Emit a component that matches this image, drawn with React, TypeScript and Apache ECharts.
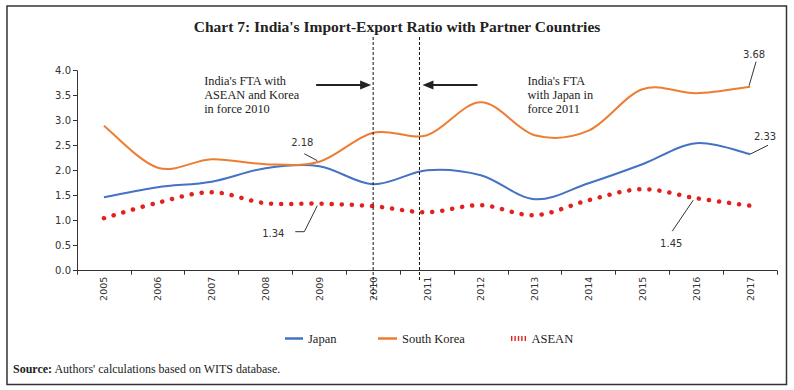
import React, { useEffect, useRef } from "react";
import * as echarts from "echarts";

const years = ["2005", "2006", "2007", "2008", "2009", "2010", "2011", "2012", "2013", "2014", "2015", "2016", "2017"];
const japan = [1.47, 1.67, 1.78, 2.05, 2.09, 1.73, 2.01, 1.91, 1.43, 1.75, 2.13, 2.55, 2.33];
const southKorea = [2.9, 2.06, 2.23, 2.13, 2.18, 2.76, 2.71, 3.37, 2.71, 2.8, 3.63, 3.55, 3.68];
const asean = [1.05, 1.36, 1.57, 1.35, 1.34, 1.29, 1.17, 1.31, 1.11, 1.41, 1.63, 1.45, 1.3];
const yMin = 0;
const yMax = 4;
const yStep = 0.5;

const TITLE = "Chart 7: India's Import-Export Ratio with Partner Countries";
const NOTE_LEFT = "India's FTA with\nASEAN and Korea\nin force 2010";
const NOTE_RIGHT = "India's FTA\nwith Japan in\nforce 2011";
const SOURCE_BOLD = "Source:";
const SOURCE_TEXT = " Authors' calculations based on WITS database.";
// FTA marker positions in category-index units
const FTA_POS = [5, 5.86];

const BLUE = "#4472C4";
const ORANGE = "#ED7D31";
const RED = "#E3201C";

const LABELS = [
  { values: southKorea, index: 4, leader: [[-2, -1], [-15, -8]], text: [-17, -19] },
  { values: southKorea, index: 12, leader: [[-1, -1], [6, -25]], text: [4, -32] },
  { values: japan, index: 12, leader: [[0, 0], [18, -9]], text: [15, -18] },
  { values: asean, index: 4, leader: [[-2, 2], [-15, 28], [-24, 28]], text: [-46, 30] },
  { values: asean, index: 11, leader: [[-3, 2], [-24, 33]], text: [-25, 45] },
];

// Smooth (Catmull-Rom style) curve built from values through the axis coordinate system
function smoothSeries(name: string, values: number[], color: string, lineStyle: any) {
  return {
    name,
    type: "custom",
    coordinateSystem: "cartesian2d",
    color,
    itemStyle: { color },
    encode: { x: 0, y: 1 },
    data: values.map((v, i) => [i, v]),
    renderItem: (params: any, api: any) => {
      if (params.dataIndex !== 0) return null;
      const pts = values.map((v, i) => api.coord([i, v]) as number[]);
      const n = pts.length;
      const t = 1 / 6;
      let d = `M${pts[0][0]},${pts[0][1]}`;
      for (let i = 0; i < n - 1; i++) {
        const p0 = pts[Math.max(0, i - 1)];
        const p1 = pts[i];
        const p2 = pts[i + 1];
        const p3 = pts[Math.min(n - 1, i + 2)];
        const c1x = p1[0] + (p2[0] - p0[0]) * t;
        const c1y = p1[1] + (p2[1] - p0[1]) * t;
        const c2x = p2[0] - (p3[0] - p1[0]) * t;
        const c2y = p2[1] - (p3[1] - p1[1]) * t;
        d += ` C${c1x},${c1y} ${c2x},${c2y} ${p2[0]},${p2[1]}`;
      }
      return {
        type: "path",
        shape: { pathData: d },
        style: { fill: "none", stroke: color, ...lineStyle },
      };
    },
  };
}

export default function App() {
  const ref = useRef<HTMLDivElement>(null);
  useEffect(() => {
    const el = ref.current!;
    const chart = echarts.init(el, null, { renderer: "svg", width: 794, height: 390 });
    const numFont = "DejaVu Sans";
    const serif = "Liberation Serif";
    chart.setOption({
      animation: false,
      backgroundColor: "#fff",
      title: {
        text: TITLE,
        left: "center",
        top: 13,
        textStyle: { fontFamily: serif, fontSize: 15.5, fontWeight: "bold", color: "#222" },
      },
      grid: { left: 77, right: 17, top: 70.7, bottom: 119.3 },
      xAxis: {
        type: "category",
        data: years,
        boundaryGap: true,
        axisLine: { lineStyle: { color: "#333", width: 1 } },
        axisTick: { show: true, length: 4, interval: 0, lineStyle: { color: "#333" } },
        axisLabel: { rotate: 90, interval: 0, margin: 6, fontFamily: numFont, fontSize: 9.5, color: "#333" },
        splitLine: { show: false },
      },
      yAxis: {
        type: "value",
        min: yMin,
        max: yMax,
        interval: yStep,
        axisLine: { show: true, lineStyle: { color: "#333", width: 1 } },
        axisTick: { show: true, length: 4, lineStyle: { color: "#333" } },
        axisLabel: { formatter: (v: number) => v.toFixed(1), fontFamily: numFont, fontSize: 10, color: "#333", margin: 6 },
        splitLine: { show: false },
      },
      legend: [
        {
          data: [{ name: "Japan", icon: "rect" }],
          left: 285, top: 332, padding: 0, itemWidth: 18, itemHeight: 2.5, itemGap: 0,
          textStyle: { fontFamily: serif, fontSize: 12.5, color: "#222" },
        },
        {
          data: [{ name: "South Korea", icon: "rect" }],
          left: 378, top: 332, padding: 0, itemWidth: 19, itemHeight: 2.5, itemGap: 0,
          textStyle: { fontFamily: serif, fontSize: 12.5, color: "#222" },
        },
        {
          data: [{ name: "ASEAN", icon: "path://M0,0h1.4v5h-1.4zM3.4,0h1.4v5h-1.4zM6.8,0h1.4v5h-1.4zM10.2,0h1.4v5h-1.4zM13.6,0h1.4v5h-1.4z" }],
          left: 511, top: 332, padding: 0, itemWidth: 16, itemHeight: 5, itemGap: 0,
          textStyle: { fontFamily: serif, fontSize: 12.5, color: "#222" },
        },
      ],
      series: [
        smoothSeries("Japan", japan, BLUE, { lineWidth: 2 }),
        smoothSeries("South Korea", southKorea, ORANGE, { lineWidth: 2 }),
        smoothSeries("ASEAN", asean, RED, { lineWidth: 4.5, lineDash: [0.1, 10], lineCap: "round" }),
      ],
    });

    const toPx = (i: number, v: number) => chart.convertToPixel({ gridIndex: 0 }, [i, v]) as number[];
    const catX = (pos: number) => {
      const i0 = Math.floor(pos);
      const a = toPx(i0, 0)[0];
      const b = toPx(i0 + 1, 0)[0];
      return a + (b - a) * (pos - i0);
    };
    const lx1 = catX(FTA_POS[0]);
    const lx2 = catX(FTA_POS[1]);
    const axisY = toPx(0, 0)[1];
    const arrowY = 85;

    const g: any[] = [];
    g.push({
      type: "rect", silent: true,
      shape: { x: 7, y: 6, width: 779.5, height: 378.5 },
      style: { fill: "none", stroke: "#333", lineWidth: 1.5 },
    });
    const dashed = { stroke: "#111", lineWidth: 1, lineDash: [3, 2] };
    g.push({ type: "line", shape: { x1: lx1, y1: 37, x2: lx1, y2: axisY + 28 }, style: dashed, z: 10 });
    g.push({ type: "line", shape: { x1: lx2, y1: 37, x2: lx2, y2: axisY + 10 }, style: dashed, z: 10 });

    // arrows
    const a1End = lx1 - 2;
    g.push({ type: "line", shape: { x1: a1End - 55, y1: arrowY, x2: a1End - 9, y2: arrowY }, style: { stroke: "#222", lineWidth: 2 } });
    g.push({ type: "polygon", shape: { points: [[a1End, arrowY], [a1End - 11, arrowY - 4.5], [a1End - 11, arrowY + 4.5]] }, style: { fill: "#222" } });
    const a2End = lx2 + 3;
    g.push({ type: "line", shape: { x1: a2End + 55, y1: arrowY, x2: a2End + 9, y2: arrowY }, style: { stroke: "#222", lineWidth: 2 } });
    g.push({ type: "polygon", shape: { points: [[a2End, arrowY], [a2End + 11, arrowY - 4.5], [a2End + 11, arrowY + 4.5]] }, style: { fill: "#222" } });

    g.push({
      type: "text", x: lx1 - 169, y: 74,
      style: { text: NOTE_LEFT, font: `12.3px "${serif}"`, fill: "#222", lineHeight: 14, verticalAlign: "top" },
    });
    g.push({
      type: "text", x: lx2 + 108, y: 74,
      style: { text: NOTE_RIGHT, font: `12.3px "${serif}"`, fill: "#222", lineHeight: 14, verticalAlign: "top" },
    });

    LABELS.forEach((l) => {
      const v = l.values[l.index];
      const [px, py] = toPx(l.index, v);
      g.push({
        type: "polyline", z: 20,
        shape: { points: l.leader.map(([dx, dy]) => [px + dx, py + dy]) },
        style: { stroke: "#333", lineWidth: 1, fill: "none" },
      });
      g.push({
        type: "text", z: 20, x: px + l.text[0], y: py + l.text[1],
        style: { text: v.toFixed(2), font: `10px "${numFont}"`, fill: "#333", align: "center", verticalAlign: "middle" },
      });
    });

    g.push({
      type: "text", x: 13, y: 369,
      style: {
        text: `{b|${SOURCE_BOLD}}{n|${SOURCE_TEXT}}`,
        verticalAlign: "middle",
        rich: {
          b: { fontFamily: serif, fontSize: 12, fontWeight: "bold", fill: "#222" },
          n: { fontFamily: serif, fontSize: 12, fill: "#222" },
        },
      },
    });

    chart.setOption({ graphic: g });
    return () => chart.dispose();
  }, []);
  return (
    <div style={{ position: "absolute", left: 0, top: 0, width: 794, height: 390, background: "#fff" }}>
      <div ref={ref} style={{ width: 794, height: 390 }} />
    </div>
  );
}
